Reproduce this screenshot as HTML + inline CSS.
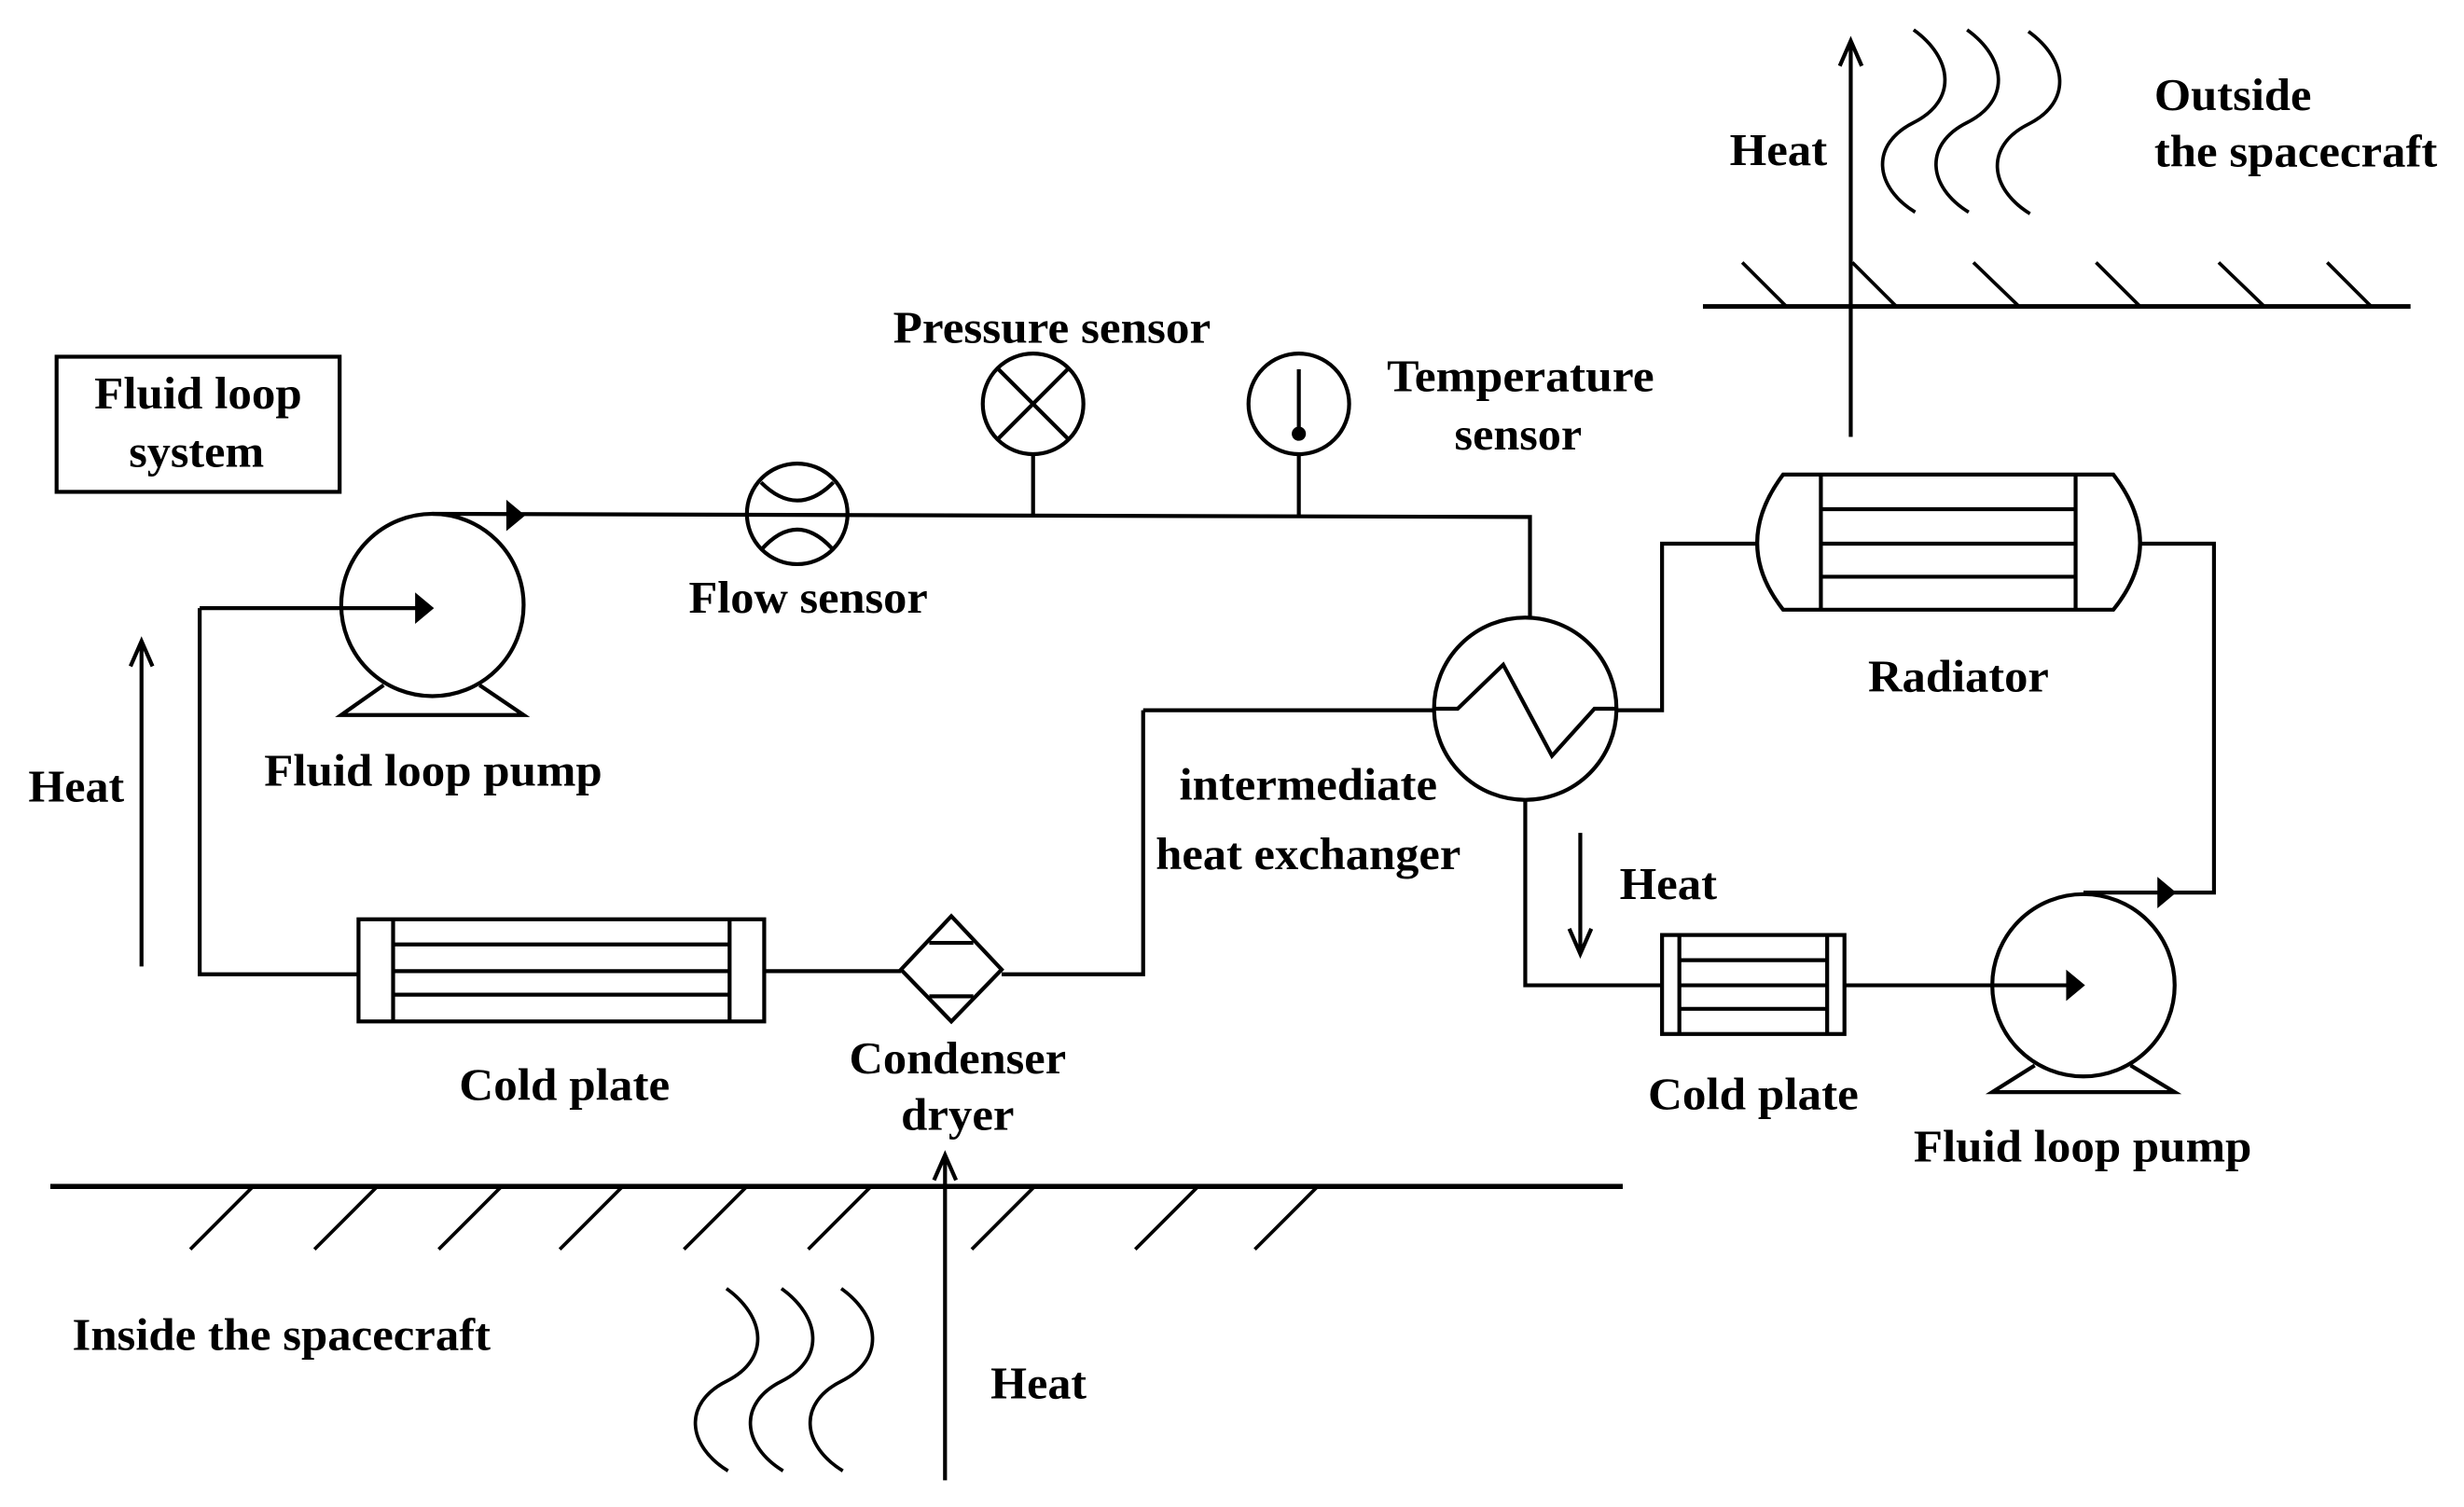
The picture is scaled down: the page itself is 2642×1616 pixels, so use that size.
<!DOCTYPE html>
<html><head><meta charset="utf-8"><style>
html,body{margin:0;padding:0;background:#fff}
svg{display:block}
text{font-family:"Liberation Serif",serif;font-weight:bold;font-size:29px;fill:#000}
</style></head><body>
<svg width="2642" height="1616" viewBox="0 0 1567 959" preserveAspectRatio="none" xmlns="http://www.w3.org/2000/svg">
<g fill="none" stroke="#000" stroke-width="2.5">
<rect x="36" y="227" width="180" height="86"/>
<circle cx="275" cy="385" r="58"/>
<path d="M244,436 L217,455 L333,455 L305,436"/>
<path d="M127,387 L265,387"/>
<path d="M127,387 L127,620 L228,620"/>
<path d="M275,327 L973,329 L973,393"/>
<ellipse cx="507" cy="327" rx="32" ry="32"/>
<path d="M484,307 Q507,330 530,307"/>
<path d="M484,350 Q507,324 530,350"/>
<ellipse cx="657" cy="257" rx="32" ry="32"/>
<path d="M635,235 L679,279 M679,235 L635,279"/>
<path d="M657,289 L657,329"/>
<ellipse cx="826" cy="257" rx="32" ry="32"/>
<path d="M826,235 L826,272 M826,289 L826,329"/>
<circle cx="970" cy="451" r="58"/>
<path d="M912,451 L927,451 L956,423 L987,481 L1014,451 L1028,451"/>
<path d="M727,452 L912,452"/>
<path d="M1028,452 L1057,452 L1057,346 L1118,346"/>
<path d="M970,509 L970,627 L1057,627"/>
<path d="M727,452 L727,620 L637,620"/>
<path d="M605,583 L637,617 L605,650 L573,617 Z"/>
<path d="M591,600 L619,600 M591,634 L619,634"/>
<path d="M486,618 L573,618"/>
<rect x="228" y="585" width="258" height="65"/>
<path d="M250,585 L250,650 M464,585 L464,650 M250,601 L464,601 M250,618 L464,618 M250,633 L464,633"/>
<path d="M1134,302 L1344,302 Q1378,346 1344,388 L1134,388 Q1101,346 1134,302 Z"/>
<path d="M1158,302 L1158,388 M1320,302 L1320,388 M1158,324 L1320,324 M1158,346 L1320,346 M1158,367 L1320,367"/>
<path d="M1361,346 L1408,346 L1408,568 L1325,568"/>
<rect x="1057" y="595" width="116" height="63"/>
<path d="M1068,595 L1068,658 M1162,595 L1162,658 M1068,611 L1162,611 M1068,627 L1162,627 M1068,642 L1162,642"/>
<path d="M1173,627 L1315,627"/>
<circle cx="1325" cy="627" r="58"/>
<path d="M1294,678 L1267,695 L1383,695 L1355,678"/>
<path d="M90,615 L90,410 M83,424 L90,408 L97,424"/>
<path d="M1005,530 L1005,605 M998,591 L1005,607 L1012,591"/>
<path d="M601,942 L601,737 M594,751 L601,735 L608,751"/>
<path d="M1177,278 L1177,28 M1170,42 L1177,26 L1184,42"/>
</g>
<g fill="#000">
<path d="M276,387 L264,377 L264,397 Z"/>
<path d="M334,328 L322,318 L322,338 Z"/>
<path d="M1326,627 L1314,617 L1314,637 Z"/>
<path d="M1384,568 L1372,558 L1372,578 Z"/>
<circle cx="826" cy="276" r="4.5"/>
</g>
<g fill="none" stroke="#000" stroke-width="2.2">
<path d="M32,755 L1032,755" stroke-width="3.2"/>
<path d="M161,755 L121,795 M240,755 L200,795 M319,755 L279,795 M396,755 L356,795 M475,755 L435,795 M554,755 L514,795 M658,755 L618,795 M762,755 L722,795 M838,755 L798,795"/>
<path d="M1083,195 L1533,195" stroke-width="3"/>
<path d="M1108,167 L1136,195 M1178,167 L1206,195 M1255,167 L1284,195 M1333,167 L1361,195 M1411,167 L1440,195 M1480,167 L1508,195"/>
<path d="M1217,19 C1242,37 1245,64 1217,78 C1189,92 1192,119 1218,135"/>
<path d="M1251,19 C1276,37 1279,64 1251,78 C1223,92 1226,119 1252,135"/>
<path d="M1290,20 C1315,38 1318,65 1290,79 C1262,93 1265,120 1291,136"/>
<path d="M462,820 C487,838 490,865 462,879 C434,893 437,920 463,936"/>
<path d="M497,820 C522,838 525,865 497,879 C469,893 472,920 498,936"/>
<path d="M535,820 C560,838 563,865 535,879 C507,893 510,920 536,936"/>
</g>
<g lengthAdjust="spacingAndGlyphs">
<text x="60" y="260" textLength="132" lengthAdjust="spacingAndGlyphs">Fluid loop</text>
<text x="82" y="297" textLength="86" lengthAdjust="spacingAndGlyphs">system</text>
<text x="568" y="218" textLength="202" lengthAdjust="spacingAndGlyphs">Pressure sensor</text>
<text x="882" y="249" textLength="170" lengthAdjust="spacingAndGlyphs">Temperature</text>
<text x="925" y="286" textLength="81" lengthAdjust="spacingAndGlyphs">sensor</text>
<text x="438" y="390" textLength="152" lengthAdjust="spacingAndGlyphs">Flow sensor</text>
<text x="168" y="500" textLength="215" lengthAdjust="spacingAndGlyphs">Fluid loop pump</text>
<text x="18" y="510" textLength="61" lengthAdjust="spacingAndGlyphs">Heat</text>
<text x="750" y="509" textLength="164" lengthAdjust="spacingAndGlyphs">intermediate</text>
<text x="735" y="553" textLength="194" lengthAdjust="spacingAndGlyphs">heat exchanger</text>
<text x="1188" y="440" textLength="115" lengthAdjust="spacingAndGlyphs">Radiator</text>
<text x="1030" y="572" textLength="62" lengthAdjust="spacingAndGlyphs">Heat</text>
<text x="292" y="700" textLength="134" lengthAdjust="spacingAndGlyphs">Cold plate</text>
<text x="540" y="683" textLength="138" lengthAdjust="spacingAndGlyphs">Condenser</text>
<text x="573" y="719" textLength="72" lengthAdjust="spacingAndGlyphs">dryer</text>
<text x="1048" y="706" textLength="134" lengthAdjust="spacingAndGlyphs">Cold plate</text>
<text x="1217" y="739" textLength="215" lengthAdjust="spacingAndGlyphs">Fluid loop pump</text>
<text x="46" y="859" textLength="266" lengthAdjust="spacingAndGlyphs">Inside the spacecraft</text>
<text x="630" y="890" textLength="61" lengthAdjust="spacingAndGlyphs">Heat</text>
<text x="1100" y="105" textLength="62" lengthAdjust="spacingAndGlyphs">Heat</text>
<text x="1370" y="70" textLength="100" lengthAdjust="spacingAndGlyphs">Outside</text>
<text x="1370" y="106" textLength="180" lengthAdjust="spacingAndGlyphs">the spacecraft</text>
</g>
</svg>
</body></html>
